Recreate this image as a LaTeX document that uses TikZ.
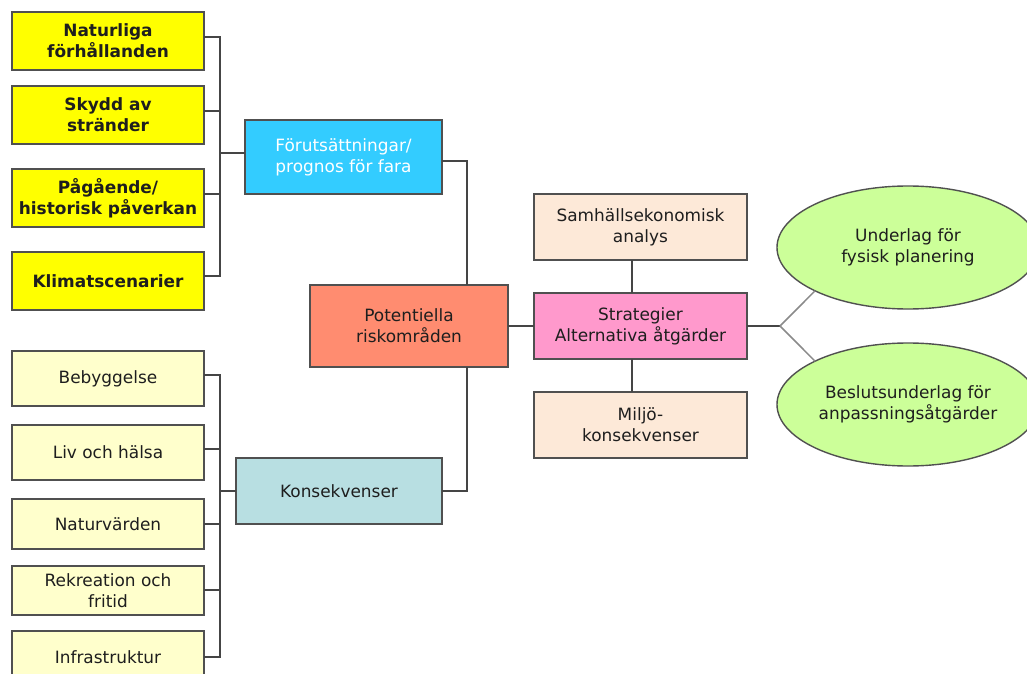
\documentclass[tikz,border=0pt]{standalone}
\usepackage{fontspec}
\setmainfont{DejaVu Sans}
\usetikzlibrary{shapes.geometric}
\definecolor{boxline}{HTML}{505050}
\definecolor{wire}{HTML}{454545}
\definecolor{wiregray}{HTML}{8A8A8A}
\definecolor{txt}{HTML}{1E1E1E}
\definecolor{cYellow}{HTML}{FFFF00}
\definecolor{cPale}{HTML}{FFFFCC}
\definecolor{cCyan}{HTML}{33CCFF}
\definecolor{cSalmon}{HTML}{FF8C70}
\definecolor{cTeal}{HTML}{B8DFE2}
\definecolor{cPeach}{HTML}{FDE9D8}
\definecolor{cPink}{HTML}{FF99CC}
\definecolor{cGreen}{HTML}{CCFF99}
\begin{document}
\begin{tikzpicture}[x=1bp,y=-1bp,
  box/.style={rectangle, draw=boxline, line width=2bp, align=center,
    inner sep=0pt, outer sep=0pt, text=txt, font=\fontsize{17}{21}\selectfont},
  leftbox/.style={box, minimum width=192bp},
  hazard/.style={leftbox, fill=cYellow, font=\bfseries\fontsize{17}{21}\selectfont},
  impact/.style={leftbox, fill=cPale},
  midbox/.style={box, minimum width=213bp, minimum height=66bp, fill=cPeach},
  goal/.style={ellipse, draw=boxline, line width=1.4bp, fill=cGreen, align=center,
    minimum width=262bp, minimum height=123bp, inner sep=0pt, outer sep=0pt,
    text=txt, font=\fontsize{17}{21}\selectfont},
  link/.style={draw=wire, line width=2bp},
  thin link/.style={draw=wiregray, line width=1.5bp}
]
\useasboundingbox (0,0) rectangle (1027,674);
\fill[white] (0,0) rectangle (1027,674);
\clip (0,0) rectangle (1027,674);

% hazard inputs
\node[hazard, minimum height=58bp] (n1) at (108,41)  {Naturliga\\förhållanden};
\node[hazard, minimum height=58bp] (n2) at (108,115) {Skydd av\\stränder};
\node[hazard, minimum height=58bp] (n3) at (108,198) {Pågående/\\historisk påverkan};
\node[hazard, minimum height=58bp] (n4) at (108,281) {Klimatscenarier};

% consequence inputs
\node[impact, minimum height=55bp] (c1) at (108,378.5) {Bebyggelse};
\node[impact, minimum height=55bp] (c2) at (108,452.5) {Liv och hälsa};
\node[impact, minimum height=50bp] (c3) at (108,524)   {Naturvärden};
\node[impact, minimum height=49bp] (c4) at (108,590.5) {Rekreation och\\fritid};
\node[impact, minimum height=52bp] (c5) at (108,657)   {Infrastruktur};

% central chain
\node[box, fill=cCyan, text=white, minimum width=197bp, minimum height=74bp] (fut) at (343.5,157)
  {Förutsättningar/\\prognos för fara};
\node[box, fill=cSalmon, minimum width=198bp, minimum height=82bp] (pot) at (409,326)
  {Potentiella\\riskområden};
\node[box, fill=cTeal, minimum width=206bp, minimum height=66bp] (kon) at (339,491)
  {Konsekvenser};

% strategies
\node[midbox] (sam) at (640.5,227) {Samhällsekonomisk\\analys};
\node[box, fill=cPink, minimum width=213bp, minimum height=66bp] (str) at (640.5,326)
  {Strategier\\Alternativa åtgärder};
\node[midbox] (mil) at (640.5,425) {Miljö-\\konsekvenser};

% outcomes
\node[goal] (e1) at (908,247.5) {Underlag för\\fysisk planering};
\node[goal] (e2) at (908,404.5) {Beslutsunderlag för\\anpassningsåtgärder};

% bracket joining the hazard inputs
\draw[link] ([yshift=4bp]n1.east) -- ++(16,0) |- ([yshift=5bp]n4.east);
\draw[link] ([yshift=4bp]n2.east) -- ++(16,0);
\draw[link] ([yshift=4bp]n3.east) -- ++(16,0);
\draw[link] ([yshift=4bp]fut.west) -- ++(-25,0);

% bracket joining the consequence inputs
\draw[link] ([yshift=3.5bp]c1.east) -- ++(16,0) |- (c5.east);
\draw[link] ([yshift=3.5bp]c2.east) -- ++(16,0);
\draw[link] (c3.east) -- ++(16,0);
\draw[link] ([yshift=0.5bp]c4.east) -- ++(16,0);
\draw[link] (kon.west) -- ++(-16,0);

% main chain
\draw[link] ([yshift=-4bp]fut.east) -| ([xshift=58bp]pot.north);
\draw[link] (kon.east) -| ([xshift=58bp]pot.south);
\draw[link] (pot.east) -- (str.west);
\draw[link] ([xshift=-8.5bp]sam.south) -- ([xshift=-8.5bp]str.north);
\draw[link] ([xshift=-8.5bp]str.south) -- ([xshift=-8.5bp]mil.north);

% fork towards the outcomes
\coordinate (fork) at (780,326);
\draw[link] (str.east) -- (fork);
\draw[thin link] (fork) -- (e1.205);
\draw[thin link] (fork) -- (e2.155);
\end{tikzpicture}
\end{document}
